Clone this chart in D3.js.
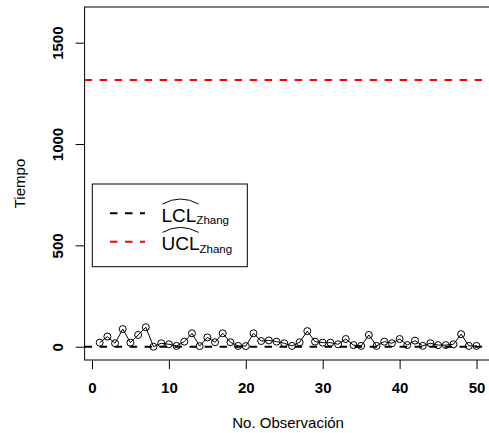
<!DOCTYPE html>
<html>
<head>
<meta charset="utf-8">
<script src="https://cdn.jsdelivr.net/npm/d3@7"></script>
<style>
  body { margin: 0; background: #fff; }
  text { font-family: "Liberation Sans", Arial, Helvetica, sans-serif; }
</style>
</head>
<body>
<div id="plot"></div>
<script>
// observed times, one per observation (1..50)
var tiempo = [20, 50, 17, 87, 20, 58, 96, 0, 17, 12,
              4, 25, 66, 3, 46, 22, 66, 22, 4, 3,
              66, 28, 31, 25, 17, 4, 22, 77, 25, 20,
              20, 12, 38, 8, 4, 58, 4, 25, 17, 38,
              8, 30, 4, 17, 8, 8, 12, 62, 4, 4];

// control limits
var lcl = 0;
var ucl = 1316;

var xTicks = [0, 10, 20, 30, 40, 50];
var yTicks = [0, 500, 1000, 1500];

var legendLabels = ['LCL', 'UCL'];
var legendSub = 'Zhang';
var legendColors = ['black', 'red'];

var width = 489, height = 433;
// plot region (R style box)
var pLeft = 84.6, pRight = 491.6, pTop = 7, pBottom = 360;

var svg = d3.select('#plot')
  .append('svg')
  .attr('width', width)
  .attr('height', height);

svg.append('rect')
  .attr('width', width)
  .attr('height', height)
  .style('fill', 'white');

var x = d3.scaleLinear().domain([-0.96, 51.96]).range([pLeft, pRight]);
var y = d3.scaleLinear().domain([-65.6, 1676]).range([pBottom, pTop]);

svg.append('clipPath').attr('id', 'clip')
  .append('rect')
  .attr('x', pLeft).attr('y', pTop)
  .attr('width', pRight - pLeft).attr('height', pBottom - pTop);

var plot = svg.append('g').attr('clip-path', 'url(#clip)');

// limit lines
plot.selectAll('line.limit')
  .data([lcl, ucl])
  .enter()
  .append('line')
  .attr('class', 'limit')
  .attr('x1', pLeft)
  .attr('x2', pRight)
  .attr('y1', function(d){ return y(d); })
  .attr('y2', function(d){ return y(d); })
  .style('stroke', function(d, i){ return legendColors[i]; })
  .style('stroke-width', '2px')
  .style('stroke-dasharray', '7.5,7.5');

// series line + open circles
var line = d3.line()
  .x(function(d, i){ return x(i + 1); })
  .y(function(d){ return y(d); });

plot.append('path')
  .datum(tiempo)
  .attr('d', line)
  .style('fill', 'none')
  .style('stroke', 'black')
  .style('stroke-width', '1px');

plot.selectAll('circle')
  .data(tiempo)
  .enter()
  .append('circle')
  .attr('cx', function(d, i){ return x(i + 1); })
  .attr('cy', function(d){ return y(d); })
  .attr('r', 3.5)
  .style('fill', 'none')
  .style('stroke', 'black')
  .style('stroke-width', '1px');

// axes
var xAxis = svg.append('g')
  .attr('transform', 'translate(0,' + pBottom + ')')
  .call(d3.axisBottom(x).tickValues(xTicks).tickSize(9).tickFormat(d3.format('d')));
xAxis.select('.domain').remove();
xAxis.selectAll('text')
  .attr('y', 33)
  .attr('dy', 0)
  .style('font-size', '15px')
  .style('font-weight', 'bold')
  .style('fill', 'black');

var yAxis = svg.append('g')
  .attr('transform', 'translate(' + pLeft + ',0)')
  .call(d3.axisLeft(y).tickValues(yTicks).tickSize(9).tickFormat(d3.format('d')));
yAxis.select('.domain').remove();
yAxis.selectAll('text')
  .attr('x', 0)
  .attr('dy', 0)
  .attr('text-anchor', 'middle')
  .attr('transform', 'translate(-22,0) rotate(-90)')
  .style('font-size', '15px')
  .style('font-weight', 'bold')
  .style('fill', 'black');

svg.selectAll('.tick line').style('stroke', 'black');

// box
svg.append('rect')
  .attr('x', pLeft)
  .attr('y', pTop)
  .attr('width', pRight - pLeft)
  .attr('height', pBottom - pTop)
  .style('fill', 'none')
  .style('stroke', 'black')
  .style('stroke-width', '1px');

// axis titles
svg.append('text')
  .attr('x', (pLeft + pRight) / 2)
  .attr('y', 428.3)
  .attr('text-anchor', 'middle')
  .style('font-size', '15px')
  .text('No. Observación');

svg.append('text')
  .attr('transform', 'translate(25,' + (pTop + pBottom) / 2 + ') rotate(-90)')
  .attr('text-anchor', 'middle')
  .style('font-size', '15px')
  .text('Tiempo');

// legend
var legend = svg.append('g');
legend.append('rect')
  .attr('x', 92.3)
  .attr('y', 184)
  .attr('width', 155)
  .attr('height', 82.7)
  .style('fill', 'white')
  .style('stroke', 'black')
  .style('stroke-width', '1px');

var rows = legend.selectAll('g.row')
  .data(legendLabels)
  .enter()
  .append('g')
  .attr('class', 'row')
  .attr('transform', function(d, i){ return 'translate(0,' + (i * 28.4) + ')'; });

rows.append('line')
  .attr('x1', 110).attr('x2', 145)
  .attr('y1', 213.3).attr('y2', 213.3)
  .style('stroke', function(d, i){ return legendColors[i]; })
  .style('stroke-width', '2px')
  .style('stroke-dasharray', '7.5,7.5');

var lab = rows.append('text')
  .attr('x', 161.5)
  .attr('y', 221.8)
  .style('font-size', '19px');
lab.append('tspan').text(function(d){ return d; });
lab.append('tspan')
  .attr('dy', 2.5)
  .style('font-size', '11.5px')
  .text(legendSub);

rows.append('path')
  .attr('d', 'M162.5,204 Q180.5,194 198.5,204')
  .style('fill', 'none')
  .style('stroke', 'black')
  .style('stroke-width', '1px');
</script>
</body>
</html>
